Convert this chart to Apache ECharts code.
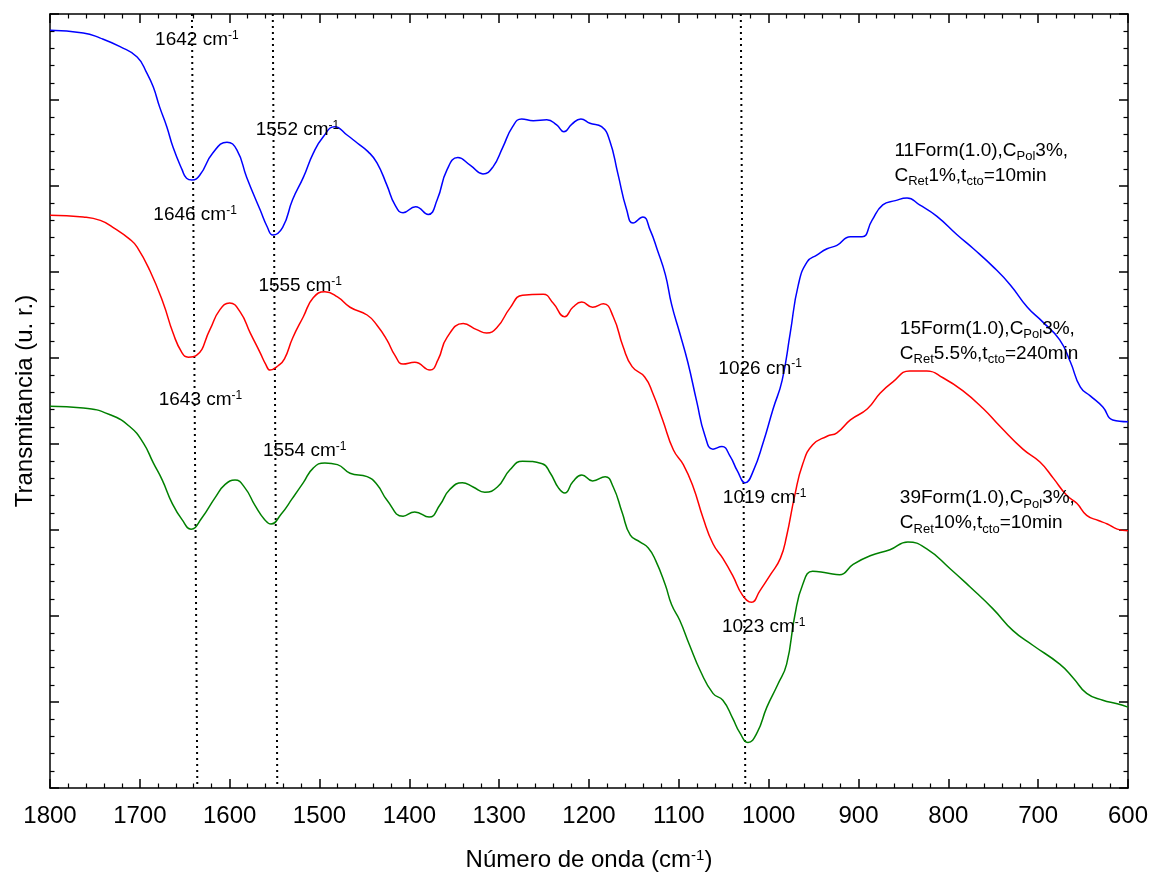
<!DOCTYPE html>
<html>
<head>
<meta charset="utf-8">
<script src="https://cdn.jsdelivr.net/npm/echarts@6/dist/echarts.min.js"></script>
<style>
  html, body { margin: 0; padding: 0; background: #fff; }
  #chart { width: 1151px; height: 873px; }
</style>
</head>
<body>
<div id="chart"></div>
<script>
// FTIR spectra, [wavenumber (cm-1), transmittance (arbitrary units, offset)]
const spec11 = [[1800,8.81],[1763,8.78],[1744,8.72],[1722,8.62],[1703,8.50],[1692,8.31],[1685,8.15],[1678,7.92],[1670,7.69],[1663,7.45],[1653,7.19],[1648,7.09],[1642,7.07],[1633,7.13],[1619,7.38],[1603,7.51],[1592,7.42],[1581,7.10],[1566,6.72],[1558,6.52],[1552,6.43],[1541,6.52],[1530,6.84],[1518,7.10],[1507,7.38],[1496,7.57],[1483,7.69],[1469,7.59],[1458,7.50],[1446,7.40],[1436,7.27],[1425,7.01],[1416,6.78],[1407,6.69],[1393,6.76],[1379,6.67],[1369,6.84],[1358,7.19],[1346,7.33],[1332,7.24],[1318,7.14],[1307,7.22],[1296,7.45],[1285,7.69],[1275,7.78],[1262,7.76],[1247,7.77],[1236,7.71],[1228,7.63],[1219,7.72],[1209,7.78],[1199,7.73],[1186,7.69],[1177,7.53],[1168,7.15],[1158,6.72],[1151,6.57],[1140,6.64],[1132,6.49],[1124,6.26],[1115,5.97],[1108,5.62],[1099,5.29],[1090,4.95],[1080,4.49],[1071,4.10],[1062,3.94],[1052,3.97],[1043,3.86],[1035,3.69],[1026,3.55],[1017,3.69],[1006,4.02],[995,4.41],[985,4.74],[976,5.29],[967,5.85],[957,6.12],[946,6.20],[935,6.27],[924,6.31],[909,6.41],[896,6.41],[885,6.60],[873,6.78],[859,6.83],[846,6.86],[832,6.78],[813,6.65],[790,6.43],[772,6.27],[750,6.06],[731,5.85],[712,5.59],[695,5.42],[676,5.21],[664,4.95],[653,4.66],[642,4.56],[628,4.43],[617,4.28],[600,4.26]];

const spec15 = [[1800,6.66],[1763,6.64],[1744,6.60],[1730,6.52],[1711,6.38],[1703,6.29],[1689,6.02],[1674,5.64],[1663,5.29],[1653,5.06],[1646,5.01],[1637,5.03],[1622,5.33],[1611,5.56],[1600,5.64],[1588,5.53],[1577,5.29],[1566,5.06],[1560,4.93],[1555,4.86],[1546,4.91],[1539,4.99],[1530,5.23],[1518,5.48],[1507,5.70],[1494,5.77],[1480,5.71],[1466,5.59],[1447,5.50],[1436,5.38],[1425,5.21],[1416,5.03],[1407,4.93],[1394,4.95],[1377,4.86],[1368,4.98],[1358,5.24],[1340,5.40],[1325,5.33],[1314,5.29],[1302,5.36],[1288,5.58],[1274,5.73],[1251,5.74],[1240,5.64],[1227,5.48],[1218,5.59],[1208,5.65],[1196,5.59],[1184,5.63],[1173,5.48],[1162,5.13],[1152,4.90],[1138,4.78],[1129,4.59],[1118,4.28],[1106,3.93],[1095,3.76],[1084,3.50],[1073,3.14],[1062,2.84],[1051,2.67],[1040,2.47],[1029,2.24],[1019,2.16],[1010,2.29],[998,2.48],[987,2.67],[980,2.93],[971,3.40],[962,3.77],[951,3.99],[935,4.09],[924,4.13],[909,4.28],[890,4.41],[876,4.59],[862,4.72],[843,4.85],[824,4.85],[806,4.77],[784,4.62],[761,4.41],[742,4.20],[717,3.94],[698,3.79],[683,3.60],[668,3.40],[657,3.31],[646,3.17],[633,3.11],[623,3.07],[612,3.01],[600,2.99]];

const spec39 = [[1800,4.44],[1763,4.42],[1733,4.34],[1711,4.20],[1696,4.01],[1685,3.78],[1675,3.58],[1664,3.31],[1653,3.12],[1643,3.01],[1631,3.14],[1616,3.38],[1605,3.53],[1594,3.58],[1583,3.49],[1572,3.29],[1561,3.12],[1554,3.07],[1543,3.18],[1530,3.37],[1518,3.55],[1507,3.72],[1494,3.78],[1480,3.76],[1466,3.66],[1447,3.62],[1436,3.53],[1425,3.35],[1407,3.16],[1394,3.21],[1378,3.15],[1366,3.29],[1355,3.47],[1341,3.55],[1329,3.50],[1316,3.44],[1302,3.50],[1288,3.70],[1274,3.80],[1252,3.77],[1243,3.66],[1234,3.49],[1227,3.43],[1218,3.56],[1208,3.64],[1196,3.57],[1182,3.62],[1173,3.50],[1163,3.20],[1154,2.94],[1143,2.86],[1134,2.79],[1126,2.65],[1115,2.36],[1108,2.13],[1099,1.95],[1088,1.66],[1076,1.36],[1062,1.10],[1051,1.02],[1040,0.81],[1032,0.64],[1023,0.53],[1013,0.64],[1002,0.94],[990,1.20],[980,1.44],[971,2.00],[962,2.37],[951,2.52],[935,2.50],[921,2.48],[906,2.60],[887,2.70],[865,2.77],[845,2.86],[824,2.78],[798,2.55],[776,2.34],[750,2.08],[728,1.83],[706,1.66],[676,1.44],[661,1.28],[646,1.10],[628,1.02],[612,0.98],[600,0.94]];

// Dotted band guides: wavenumber at top and bottom of the frame
const guideTop = [1642, 1552, 1031];
const guideBottom = [1636, 1547, 1026];

// Band positions (cm-1) written next to the minima
const bandValues = ['1642', '1552', '1646', '1555', '1643', '1554', '1026', '1019', '1023'];

// Sample descriptions
const sampleIds = ['11Form(1.0)', '15Form(1.0)', '39Form(1.0)'];
const polConc = ['3%', '3%', '3%'];
const retConc = ['1%', '5.5%', '10%'];
const contactTime = ['10min', '240min', '10min'];

// Layout: anchor (left, middle) of each text in axis units
const bandAnchors = [[1683,8.70],[1571,7.65],[1685,6.66],[1568,5.84],[1679,4.51],[1563,3.92],[1056,4.88],[1051,3.37],[1052,1.87]];
const sampleAnchors = [[860,7.27],[854,5.20],[854,3.23]];

const FONT = '"Liberation Sans", Arial, Helvetica, sans-serif';
const colors = ['#0000ff', '#ff0000', '#008000'];

const bandRich = {
  m: { fontFamily: FONT, fontSize: 19, color: '#000', lineHeight: 24 },
  sup: { fontFamily: FONT, fontSize: 12, color: '#000', lineHeight: 24, padding: [0, 0, 9, 0] }
};
const sampleRich = {
  m: { fontFamily: FONT, fontSize: 19, color: '#000', lineHeight: 25 },
  sub: { fontFamily: FONT, fontSize: 13, color: '#000', lineHeight: 25, padding: [13, 0, 0, 0] }
};

const spectra = [spec11, spec15, spec39];

const series = [];

guideTop.forEach((t, i) => {
  series.push({
    type: 'line',
    data: [[t, 9], [guideBottom[i], 0]],
    symbol: 'none',
    silent: true,
    z: 1,
    lineStyle: { color: '#000', width: 2, type: [2, 4] }
  });
});

spectra.forEach((d, i) => {
  series.push({
    type: 'line',
    data: d,
    symbol: 'none',
    smooth: 0.5,
    silent: true,
    z: 3,
    lineStyle: { color: colors[i], width: 1.5 }
  });
});

const textLayer = {
  type: 'scatter',
  symbolSize: 0,
  silent: true,
  z: 5,
  itemStyle: { opacity: 1 },
  emphasis: { disabled: true }
};

series.push(Object.assign({}, textLayer, {
  data: bandValues.map((v, i) => ({
    value: bandAnchors[i],
    label: { formatter: '{m|' + v + ' cm}{sup|-1}' }
  })),
  label: { show: true, position: 'right', distance: 0, color: '#000', opacity: 1, rich: bandRich }
}));

series.push(Object.assign({}, textLayer, {
  data: sampleIds.map((id, i) => ({
    value: sampleAnchors[i],
    label: {
      formatter: '{m|' + id + ',C}{sub|Pol}{m|' + polConc[i] + ',}\n' +
                 '{m|C}{sub|Ret}{m|' + retConc[i] + ',t}{sub|cto}{m|=' + contactTime[i] + '}'
    }
  })),
  label: { show: true, position: 'right', distance: 0, align: 'left', color: '#000', opacity: 1, rich: sampleRich }
}));

const frameLine = { show: true, onZero: false, lineStyle: { color: '#000', width: 1.5 } };
const majorTick = { show: true, inside: true, length: 9, lineStyle: { color: '#000', width: 1.5 } };
const minorTick = { show: true, splitNumber: 5, length: 4.5, lineStyle: { color: '#000', width: 1.2 } };

const option = {
  animation: false,
  backgroundColor: '#fff',
  grid: { left: 50, right: 23, top: 14, bottom: 85, containLabel: false, outerBoundsMode: 'none' },
  xAxis: [
    {
      type: 'value', min: 600, max: 1800, interval: 100, inverse: true, position: 'bottom',
      axisLine: frameLine, axisTick: majorTick, minorTick: minorTick,
      splitLine: { show: false }, minorSplitLine: { show: false },
      axisLabel: { fontFamily: FONT, fontSize: 24, color: '#000', margin: 16, formatter: (v) => String(v) },
      name: '{a|Número de onda (cm}{s|-1}{a|)}',
      nameLocation: 'middle', nameGap: 58,
      nameTextStyle: {
        rich: {
          a: { fontFamily: FONT, fontSize: 24, color: '#000', lineHeight: 28 },
          s: { fontFamily: FONT, fontSize: 15, color: '#000', lineHeight: 28, padding: [0, 0, 8, 0] }
        }
      }
    },
    {
      type: 'value', min: 600, max: 1800, interval: 100, inverse: true, position: 'top',
      axisLine: frameLine, axisTick: majorTick, minorTick: minorTick,
      splitLine: { show: false }, axisLabel: { show: false }
    }
  ],
  yAxis: [
    {
      type: 'value', min: 0, max: 9, interval: 1, position: 'left',
      axisLine: frameLine, axisTick: majorTick, minorTick: minorTick,
      splitLine: { show: false }, minorSplitLine: { show: false },
      axisLabel: { show: false },
      name: 'Transmitancia (u. r.)',
      nameLocation: 'middle', nameGap: 13,
      nameTextStyle: { fontFamily: FONT, fontSize: 24, color: '#000' }
    },
    {
      type: 'value', min: 0, max: 9, interval: 1, position: 'right',
      axisLine: frameLine, axisTick: majorTick, minorTick: minorTick,
      splitLine: { show: false }, axisLabel: { show: false }
    }
  ],
  series: series
};

const chart = echarts.init(document.getElementById('chart'), null, { renderer: 'canvas' });
chart.setOption(option);
</script>
</body>
</html>
